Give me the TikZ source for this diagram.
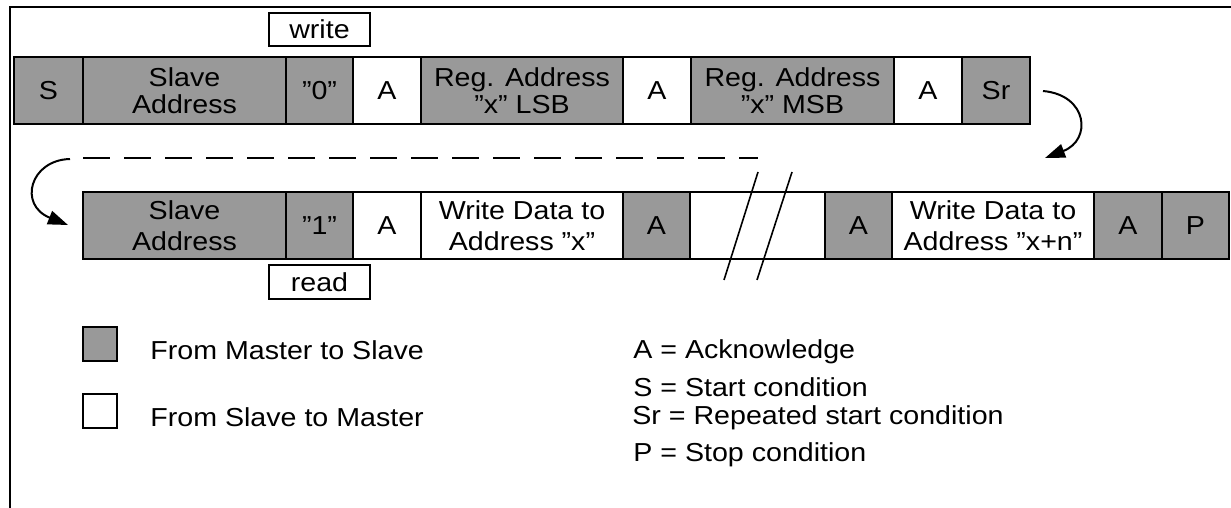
\documentclass[tikz,border=0pt]{standalone}
\usepackage{fontspec}
\setmainfont{Liberation Sans}
\usepackage{graphicx}
\usetikzlibrary{arrows.meta}
\definecolor{msgray}{RGB}{153,153,153}
% slightly widened lettering used throughout the frame
\newcommand{\wt}[1]{\scalebox{1.1}[1]{#1}}

\begin{document}
\begin{tikzpicture}[x=0.5pt,y=-0.5pt,
  field/.style={draw=black, line width=1pt, inner sep=0pt, align=center,
    minimum height=33.5pt},
  rowA/.style={field, font=\fontsize{13}{13.5}\selectfont},
  rowB/.style={field, font=\fontsize{13}{15.5}\selectfont},
  mst/.style={fill=msgray},
  slv/.style={fill=white},
  wd/.style={minimum width=#1*0.5pt},
  tag/.style={draw=black, line width=0.8pt, fill=white, inner sep=0pt,
    minimum width=50.5pt, font=\fontsize{13}{14}\selectfont},
  legtext/.style={inner sep=0pt, anchor=base west, font=\fontsize{13}{14}\selectfont},
  legbox/.style={draw=black, line width=0.9pt, minimum width=17pt, minimum height=17pt, inner sep=0pt},
  flow/.style={line width=1pt, -{Triangle[length=10pt,width=7pt]}},
  brk/.style={line width=0.8pt}
]
\useasboundingbox (0,0) rectangle (1231,508);

% frame edges
\draw[line width=1.3pt] (10,508) -- (10,7) -- (1231,7);

% write transfer: register address phase
\node[rowA, mst, wd=69]  (S)    at (48.5,91)  {\wt{S}};
\node[rowA, mst, wd=203] (sa1)  at (184.5,91) {\wt{Slave}\\\wt{Address}};
\node[rowA, mst, wd=67]  (zero) at (319.5,91) {\wt{”0"}};
\node[rowA, slv, wd=68]  (a1)   at (387,91)   {\wt{A}};
\node[rowA, mst, wd=202] (lsb)  at (522,91)   {\wt{Reg. Address}\\\wt{”x” LSB}};
\node[rowA, slv, wd=68]  (a2)   at (657,91)   {\wt{A}};
\node[rowA, mst, wd=203] (msb)  at (792.5,91) {\wt{Reg. Address}\\\wt{”x” MSB}};
\node[rowA, slv, wd=68]  (a3)   at (928,91)   {\wt{A}};
\node[rowA, mst, wd=68]  (Sr)   at (996,91)   {\wt{Sr}};

\node[tag, minimum height=16.5pt] (write) at (319.5,29.5) {\wt{write}};

% read transfer: data phase
\node[rowB, mst, wd=203] (sa2)  at (184.5,225.5) {\wt{Slave}\\\wt{Address}};
\node[rowB, mst, wd=67]  (one)  at (319.5,225.5) {\wt{”1"}};
\node[rowB, slv, wd=68]  (a4)   at (387,225.5)   {\wt{A}};
\node[rowB, slv, wd=202] (wd1)  at (522,225.5)   {\wt{Write Data to}\\\wt{Address ”x”}};
\node[rowB, mst, wd=67]  (a5)   at (656.5,225.5) {\wt{A}};
\node[rowB, slv, wd=135] (gap)  at (757.5,225.5) {};
\node[rowB, mst, wd=67]  (a6)   at (858.5,225.5) {\wt{A}};
\node[rowB, slv, wd=202] (wd2)  at (993,225.5)   {\wt{Write Data to}\\\wt{Address ”x+n”}};
\node[rowB, mst, wd=68]  (a7)   at (1128,225.5)  {\wt{A}};
\node[rowB, mst, wd=67]  (P)    at (1195.5,225.5){\wt{P}};

\node[tag, minimum height=17pt] (read) at (319.5,282) {\wt{read}};

% break marks across the repeated section
\draw[brk] (758,172) -- (724,280);
\draw[brk] (792,172) -- (757,280);

% continuation from the first line to the second
\coordinate (srOut)   at (1043,91);
\coordinate (rowIn)   at (1045,158);
\coordinate (dashR)   at (758,158);
\coordinate (dashL)   at (83,158);
\coordinate (retFrom) at (70,159);
\coordinate (retTo)   at (68,225);

\draw[flow] (srOut) .. controls (1088,95) and (1092,140) .. (rowIn);
\draw[line width=1pt, dash pattern=on 13.5pt off 7pt] (dashL) -- (dashR);
\draw[flow] (retFrom) .. controls (30,160) and (18,205) .. (retTo);

% legend
\node[legbox, fill=msgray] (kM) at (100,344) {};
\node[legbox, fill=white]  (kS) at (100,411) {};
\node[legtext] (tM) at (150,359) {\wt{From Master to Slave}};
\node[legtext] (tS) at (150,426) {\wt{From Slave to Master}};

\node[legtext] (dA)  at (633,358) {\wt{A = Acknowledge}};
\node[legtext] (dS)  at (633,396) {\wt{S = Start condition}};
\node[legtext] (dSr) at (632,424) {\wt{Sr = Repeated start condition}};
\node[legtext] (dP)  at (633,461) {\wt{P = Stop condition}};
\end{tikzpicture}
\end{document}
